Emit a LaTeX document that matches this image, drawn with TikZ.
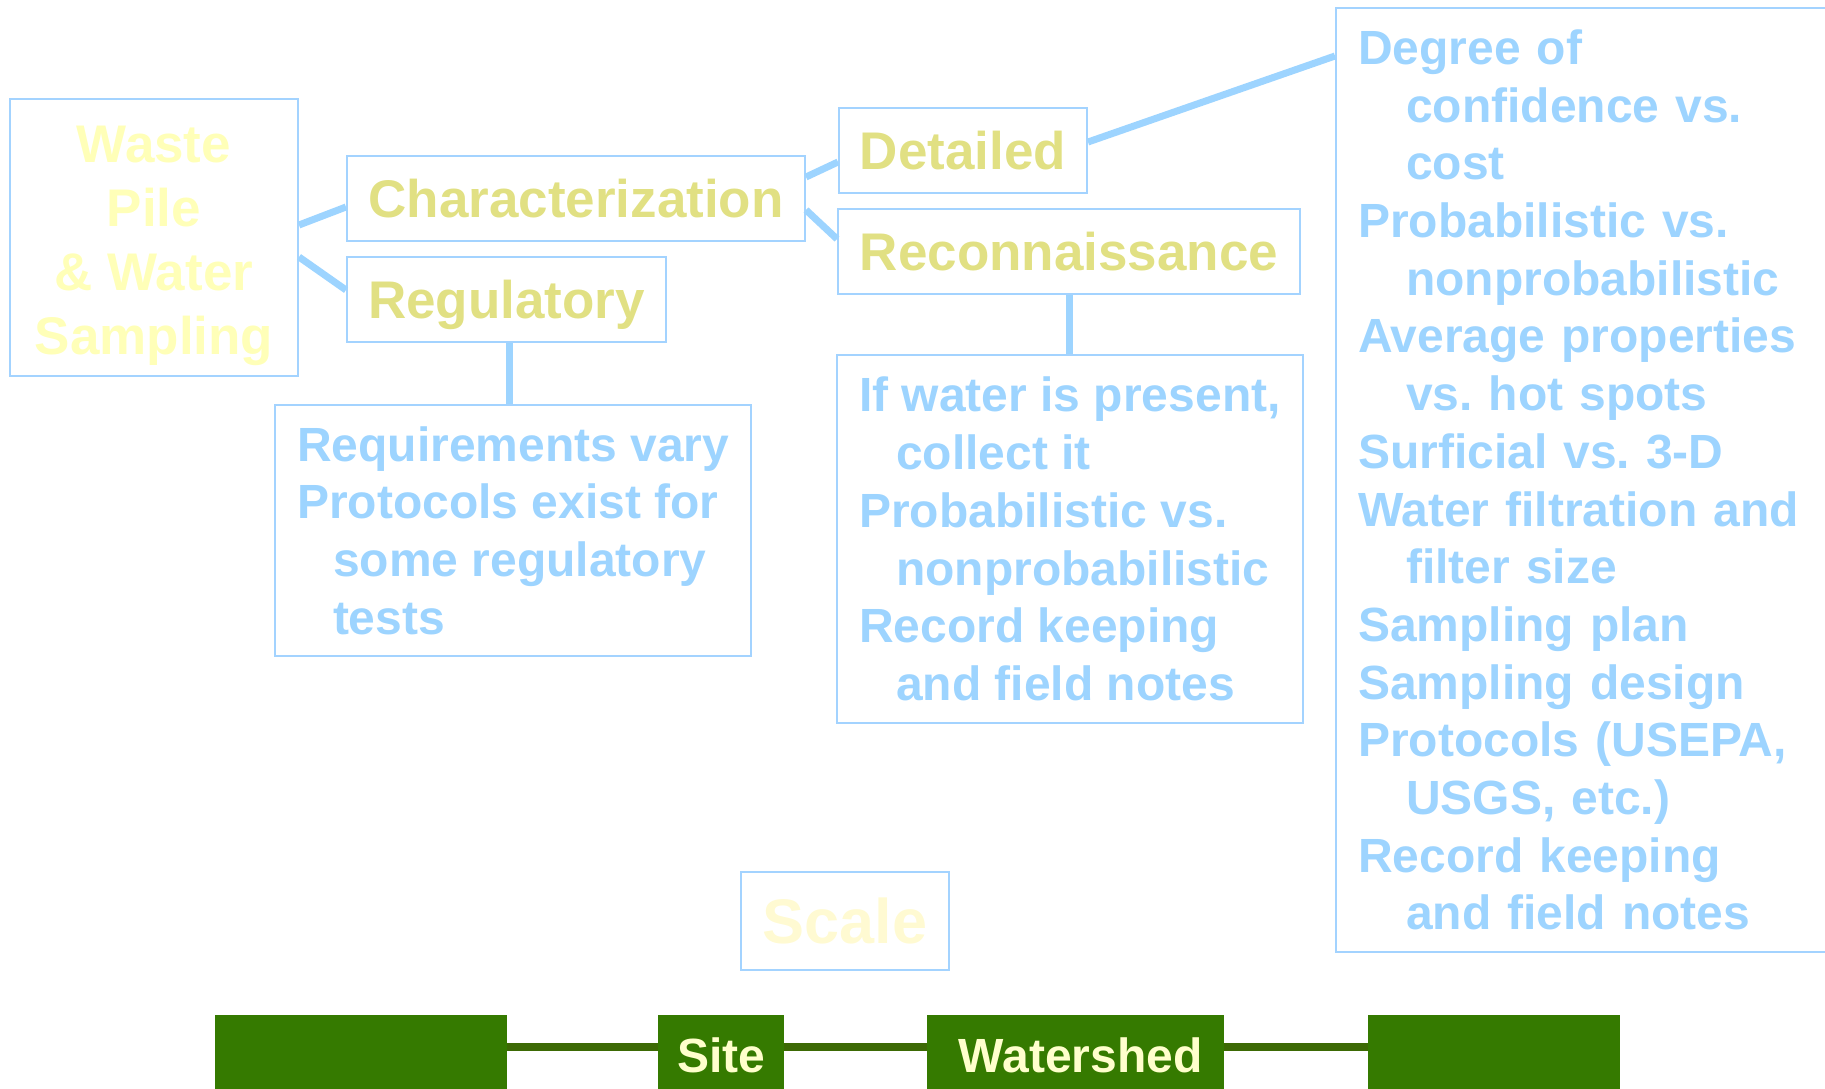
\documentclass[tikz,border=0pt]{standalone}
\usepackage{fontspec}
\setmainfont{Liberation Sans}
\usepackage{xcolor}
\usepackage{tikz}
\usetikzlibrary{positioning}

\definecolor{linkblue}{HTML}{9DD4FF}
\definecolor{edgeblue}{HTML}{A3D3FF}
\definecolor{titleolive}{HTML}{E1E083}
\definecolor{paleyellow}{HTML}{FFFFB8}
\definecolor{scaleyellow}{HTML}{FFFAD2}
\definecolor{bargreen}{HTML}{357A00}
\definecolor{barline}{HTML}{3D6A05}
\definecolor{bartext}{HTML}{FFFFCC}

\begin{document}
\frenchspacing
\begin{tikzpicture}[x=1pt, y=-1pt,
  rect/.style={draw=edgeblue, line width=2pt, inner sep=0pt},
  title/.style={rect, text=titleolive, font=\fontsize{53}{64}\selectfont\bfseries, text height=38pt, text depth=0pt, minimum height=85pt},
  notes/.style={rect, anchor=north west, align=left, text=linkblue, inner xsep=22pt, font=\fontsize{48}{57.7}\selectfont\bfseries\frenchspacing},
  link/.style={draw=linkblue, line width=7pt},
  bar/.style={fill=bargreen, inner sep=0pt, minimum height=80pt, anchor=north west, text=bartext, font=\fontsize{48}{58}\selectfont\bfseries, text height=34pt, text depth=0pt},
  barlink/.style={draw=barline, line width=8pt}]

    \useasboundingbox (0,0) rectangle (1825,1089);

    % Draw boxes
    \node (waste) [rect, minimum width=288pt, minimum height=277pt, align=center, text=paleyellow, font=\fontsize{53}{64}\selectfont\bfseries] at (154,237.5) {\rule{0pt}{54pt}Waste\\Pile\\\& Water\\Sampling};
    \node (char) [title, minimum width=458pt] at (576,198.5) {Characterization};
    \node (reg) [title, minimum width=319pt] at (506.5,299.5) {Regulatory};
    \node (det) [title, minimum width=248pt] at (963,150.5) {Detailed};
    \node (rec) [title, minimum width=462pt] at (1069,251.5) {Reconnaissance};

    % Draw notes
    \node (regnotes) [notes, minimum width=476pt, minimum height=251pt] at (274,404) {Requirements vary\\Protocols exist for\\\hspace*{36pt}some regulatory\\\hspace*{36pt}tests};
    \node (recnotes) [notes, minimum width=466pt, minimum height=368pt] at (836,354) {If water is present,\\\hspace*{37pt}collect it\\Probabilistic vs.\\\hspace*{37pt}nonprobabilistic\\Record keeping\\\hspace*{37pt}and field notes};
    \node (big) [notes, text width=470pt, minimum height=944pt] at (1335,7) {Degree of\\\hspace*{48pt}confidence vs.\\\hspace*{48pt}cost\\Probabilistic vs.\\\hspace*{48pt}nonprobabilistic\\Average properties\\\hspace*{48pt}vs. hot spots\\Surficial vs. 3-D\\Water filtration and\\\hspace*{48pt}filter size\\Sampling plan\\Sampling design\\Protocols (USEPA,\\\hspace*{48pt}USGS, etc.)\\Record keeping\\\hspace*{48pt}and field notes};

    % Draw links
    \draw[link] ([yshift=12.5pt]waste.east) -- ([yshift=-8.5pt]char.west);
    \draw[link] ([yshift=-19.5pt]waste.east) -- ([yshift=9.5pt]reg.west);
    \draw[link] ([yshift=21.5pt]char.east) -- ([yshift=-11.5pt]det.west);
    \draw[link] ([yshift=-11.5pt]char.east) -- ([yshift=12.5pt]rec.west);
    \draw[link] ([yshift=8.5pt]det.east) -- ([yshift=-49pt]big.north west);
    \draw[link] ([xshift=2.5pt]reg.south) -- ([xshift=2.5pt]reg.south |- regnotes.north);
    \draw[link] (rec.south) -- (rec.south |- recnotes.north);

    % Draw scale
    \node (scale) [rect, minimum width=208pt, minimum height=98pt, text=scaleyellow, font=\fontsize{63}{70}\selectfont\bfseries, text height=45pt, text depth=0pt] at (845,921) {Scale};
    \node (b1) [bar, minimum width=292pt] at (215,1015) {};
    \node (site) [bar, minimum width=126pt] at (658,1015) {Site};
    \node (shed) [bar, minimum width=297pt] at (927,1015) {\hspace*{10pt}Watershed};
    \node (b4) [bar, minimum width=252pt] at (1368,1015) {};

    \draw[barlink] ([yshift=8pt]b1.east) -- ([yshift=8pt]site.west);
    \draw[barlink] ([yshift=8pt]site.east) -- ([yshift=8pt]shed.west);
    \draw[barlink] ([yshift=8pt]shed.east) -- ([yshift=8pt]b4.west);

  \end{tikzpicture}
\end{document}
